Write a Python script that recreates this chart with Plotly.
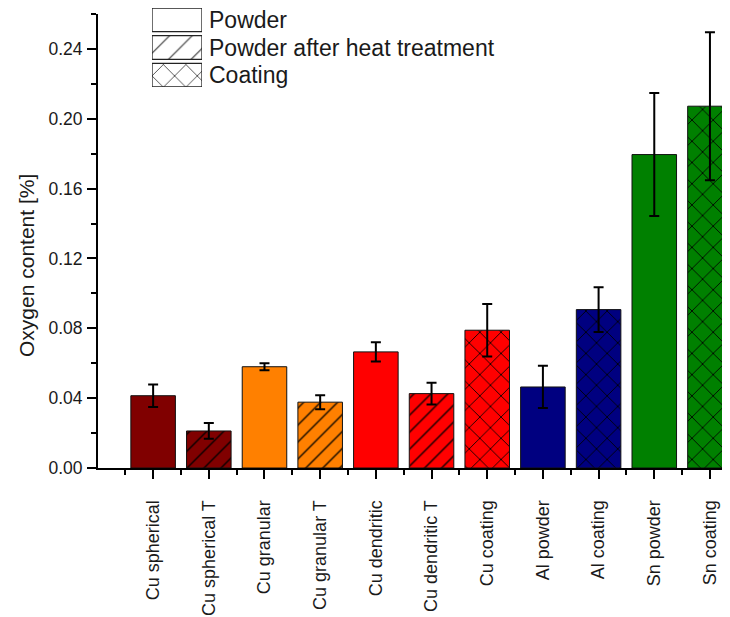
import plotly.graph_objects as go

categories = ["Cu spherical", "Cu spherical T", "Cu granular", "Cu granular T",
              "Cu dendritic", "Cu dendritic T", "Cu coating", "Al powder",
              "Al coating", "Sn powder", "Sn coating"]
values = [0.0414, 0.0212, 0.0580, 0.0377, 0.0665, 0.0426, 0.0789, 0.0464,
          0.0907, 0.1795, 0.2072]
errors = [0.0064, 0.0045, 0.0020, 0.0040, 0.0055, 0.0062, 0.0150, 0.0121,
          0.0128, 0.0352, 0.0424]
kinds = ["powder", "heat", "powder", "heat", "powder", "heat", "coating",
         "powder", "coating", "powder", "coating"]
colors = ["#800000", "#800000", "#FF8000", "#FF8000", "#FF0000", "#FF0000",
          "#FF0000", "#000080", "#000080", "#008000", "#008000"]

legend_labels = ["Powder", "Powder after heat treatment", "Coating"]
legend_kinds = ["powder", "heat", "coating"]

shape_map = {"powder": "", "heat": "/", "coating": "x"}
size_map = {"powder": 12, "heat": 12, "coating": 15}
legend_solidity = {"powder": 0.1, "heat": 0.07, "coating": 0.1}

ytick_vals = [0.00, 0.04, 0.08, 0.12, 0.16, 0.20, 0.24]

FONT = "Liberation Sans, Arial, sans-serif"
TXT = "#1a1a1a"

# page has an 8px body margin; figure sized to fill the remaining window
W, H = 722, 609
L, R, T, B = 90, 0, 0, 149
PW = W - L - R
PH = H - T - B

xs = list(range(len(categories)))

fig = go.Figure()
for i, (cat, v, e, k, c) in enumerate(zip(categories, values, errors, kinds, colors)):
    fig.add_trace(go.Bar(
        x=[i], y=[v], width=0.8, name=cat,
        marker=dict(
            color=c,
            line=dict(color="#111111", width=1),
            pattern=dict(shape=shape_map[k], size=size_map[k],
                         solidity=0.12, fgcolor="#000000", fgopacity=0.9,
                         fillmode="overlay"),
        ),
        error_y=dict(type="data", array=[e], color="black", thickness=2, width=5),
        showlegend=False, xaxis="x", yaxis="y",
    ))

# legend inset drawn as bars
for i, (lab, k) in enumerate(zip(legend_labels, legend_kinds)):
    fig.add_trace(go.Bar(
        y=[i], x=[1], orientation="h", width=24 / 28, name=lab,
        marker=dict(
            color="white",
            line=dict(color="#222222", width=1.3),
            pattern=dict(shape=shape_map[k], size=16,
                         solidity=legend_solidity[k], fgcolor="#000000",
                         bgcolor="white", fgopacity=0.8, fillmode="replace"),
        ),
        showlegend=False, xaxis="x2", yaxis="y2", hoverinfo="skip",
    ))
    fig.add_annotation(text=lab, xref="paper", yref="y2", x=(199 - L) / PW, y=i,
                       xanchor="left", yanchor="middle", showarrow=False,
                       font=dict(family=FONT, size=23, color=TXT))

fig.add_annotation(text="Oxygen content [%]", xref="paper", yref="paper",
                   x=(18 - L) / PW, y=(PH - 258) / PH, textangle=-90,
                   xanchor="center", yanchor="middle", showarrow=False,
                   font=dict(family=FONT, size=21, color=TXT))

fig.update_layout(
    width=W, height=H,
    margin=dict(l=L, r=R, t=T, b=B, pad=0),
    plot_bgcolor="white", paper_bgcolor="white",
    font=dict(family=FONT, size=18, color=TXT),
    barmode="overlay",
    xaxis=dict(
        range=[-0.99, 10.36], tickmode="array", tickvals=xs, ticktext=categories,
        tickangle=-90, ticks="outside", ticklen=9, tickwidth=2, tickcolor="black",
        showline=True, linecolor="black", linewidth=2, showgrid=False, zeroline=False,
        tickfont=dict(size=18, family=FONT, color=TXT),
        minor=dict(tickmode="linear", tick0=0.5, dtick=1, ticks="outside",
                   ticklen=5, tickwidth=2, tickcolor="black", showgrid=False),
        ticklabelstandoff=14,
    ),
    yaxis=dict(
        domain=[0, (PH - 6) / PH], range=[0, 0.26], tickmode="array",
        tickvals=ytick_vals, tickformat=".2f",
        ticks="outside", ticklen=9, tickwidth=2, tickcolor="black",
        showline=True, linecolor="black", linewidth=2, showgrid=False, zeroline=False,
        tickfont=dict(size=17.5, family=FONT, color=TXT),
        minor=dict(tickmode="linear", tick0=0, dtick=0.02, ticks="outside",
                   ticklen=5, tickwidth=2, tickcolor="black", showgrid=False),
        ticklabelstandoff=1,
    ),
    xaxis2=dict(domain=[(144 - L) / PW, (194 - L) / PW], range=[0, 1],
                visible=False, fixedrange=True, anchor="y2"),
    yaxis2=dict(domain=[(PH - 79) / PH, 1.0],
                range=[2 + 12 / 28, -12 / 28], visible=False, anchor="x2"),
)

fig.write_html("out.html")
